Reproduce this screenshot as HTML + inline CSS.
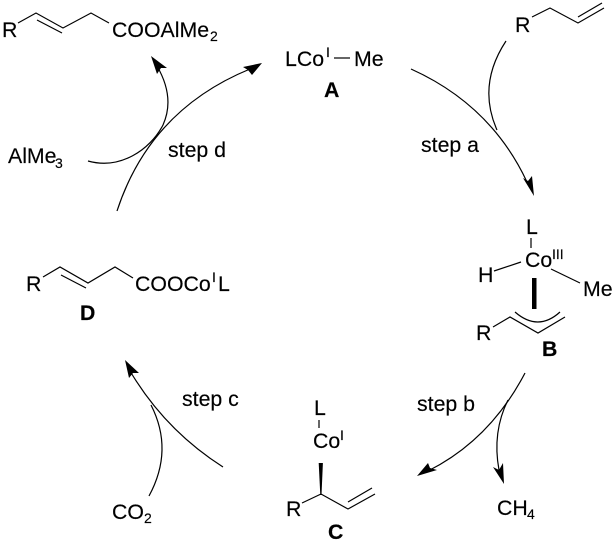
<!DOCTYPE html>
<html>
<head>
<meta charset="utf-8">
<style>
html,body{margin:0;padding:0;background:#fff;}
svg{display:block;}
text{font-family:"Liberation Sans",sans-serif;font-size:21.3px;fill:#000;stroke:#000;stroke-width:.15px;}
.b{font-weight:bold;}
.s{font-size:14px;}
</style>
</head>
<body>
<svg width="615" height="544" viewBox="0 0 615 544" xmlns="http://www.w3.org/2000/svg">
<g fill="none" stroke="#000" stroke-width="1.2">
<!-- top molecule -->
<polyline points="18,23 36,13 63,28 91,13 109,23"/>
<line x1="37" y1="20" x2="62" y2="33"/>
<!-- A -->
<line x1="334" y1="58" x2="350" y2="58"/>
<!-- top right -->
<polyline points="532,17 550,8 578,23 604,8"/>
<line x1="578" y1="17" x2="602" y2="3"/>
<!-- B -->
<line x1="531" y1="238" x2="531" y2="248"/>
<line x1="494" y1="271" x2="521" y2="262"/>
<line x1="551" y1="269" x2="580" y2="283"/>
<polyline points="493,327 510,317 538,333 565,317"/>
<path d="M515,312 Q538,332 560,312"/>
<!-- C -->
<line x1="319" y1="420" x2="319" y2="428"/>
<polyline points="302,503 321,494 348,509 375,494"/>
<line x1="348" y1="502" x2="372" y2="488"/>
<!-- D -->
<polyline points="43,277 60,267 88,283 115,267 133,278"/>
<line x1="61" y1="275" x2="86" y2="288"/>
<!-- arrows -->
<path d="M411,69 Q491,105 527,182"/>
<path d="M506,41 Q477,85 497,130"/>
<path d="M525,373 Q490,440 428,471"/>
<path d="M508,400 Q492,432 499,470"/>
<path d="M223,467 Q165,430 130,371"/>
<path d="M149,496 Q174,450 151,405"/>
<path d="M117,211 Q150,110 250,69"/>
<path d="M88,161 C120,170 150,150 163,125 C172,105 168,85 157,66"/>
</g>
<!-- bold bonds -->
<rect x="532" y="278" width="4.5" height="31" fill="#000"/>
<polygon points="318.7,463 322.9,463 321.5,495 320.3,495" fill="#000"/>
<!-- arrowheads -->
<g fill="#000">
<polygon points="534,196 523,178 528,181 532,176"/>
<polygon points="417,476 428,463 430,468 437,470"/>
<polygon points="504,484 493,467 499,470 503,463"/>
<polygon points="125,360 139,373 133,373 129,378"/>
<polygon points="262,63 243,67 248,70 252,75"/>
<polygon points="151,56 167,68 161,68 157,74"/>
</g>
<!-- labels -->
<text x="2" y="37">R</text>
<text x="112" y="37">COOAlMe</text><text x="210" y="41" class="s">2</text>
<text x="285" y="66">LCo</text><text x="326" y="57" class="s">I</text>
<text x="354" y="66">Me</text>
<text x="324" y="97" class="b">A</text>
<text x="515" y="32">R</text>
<text x="421" y="152">step a</text>
<text x="168" y="157">step d</text>
<text x="8" y="163">AlMe</text><text x="55" y="168" class="s">3</text>
<text x="526" y="234">L</text>
<text x="525" y="267">Co</text><text x="552" y="259" class="s">III</text>
<text x="478" y="282">H</text>
<text x="583" y="296">Me</text>
<text x="476" y="340">R</text>
<text x="542" y="356" class="b">B</text>
<text x="417" y="411">step b</text>
<text x="314" y="415">L</text>
<text x="313" y="448">Co</text><text x="340" y="440" class="s">I</text>
<text x="286" y="516">R</text>
<text x="328" y="539" class="b">C</text>
<text x="497" y="515">CH</text><text x="527" y="519" class="s">4</text>
<text x="26" y="291">R</text>
<text x="135" y="291">COOCo</text><text x="212" y="282" class="s">I</text>
<text x="218" y="291">L</text>
<text x="80" y="320" class="b">D</text>
<text x="182" y="406">step c</text>
<text x="112" y="519">CO</text><text x="144" y="523" class="s">2</text>
</svg>
</body>
</html>
